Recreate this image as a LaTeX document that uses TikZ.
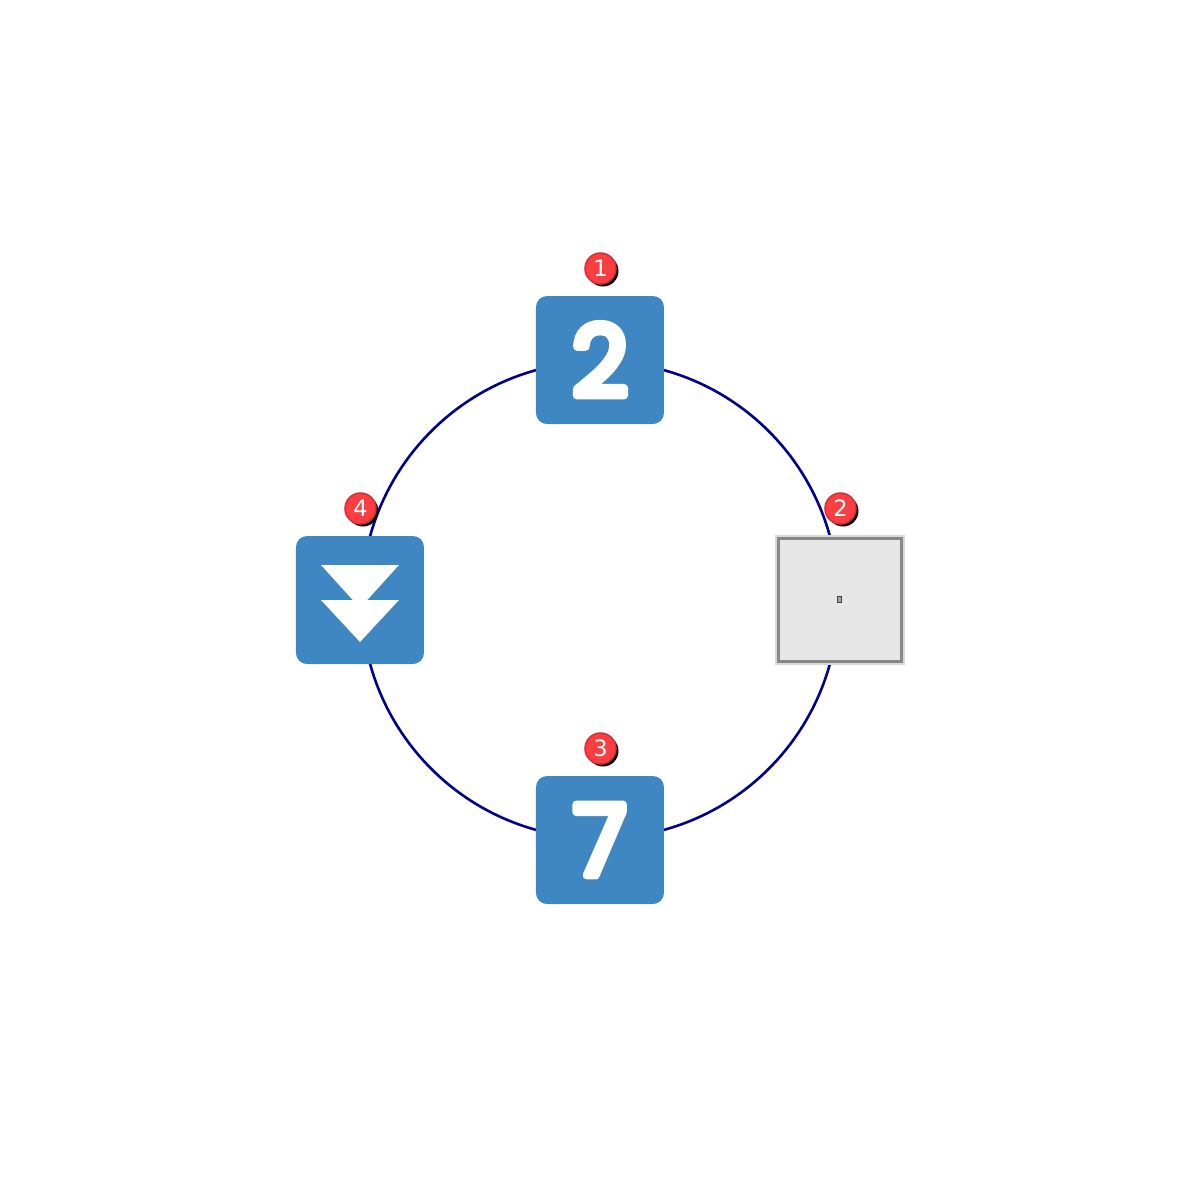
\documentclass[tikz,border=0pt]{standalone}
\usepackage{fontspec}
\usepackage{xcolor}
\usetikzlibrary{positioning,calc,shadows,backgrounds}
\setmainfont{DejaVu Sans}
\newfontfamily\keyfont[FakeBold=8]{Poppins}
\definecolor{ringblue}{RGB}{0,0,139}
\definecolor{keyblue}{RGB}{62,135,195}
\definecolor{badgered}{RGB}{250,62,66}
\definecolor{badgeedge}{RGB}{214,48,52}
\definecolor{tofugray}{RGB}{230,230,230}
\definecolor{tofuedge}{RGB}{135,135,135}
\begin{document}
\begin{tikzpicture}[
    slotkey/.style={minimum size=1.28cm, inner sep=0pt, rounded corners=0.11cm, fill=keyblue, text=white, font=\keyfont\fontsize{28}{28}\selectfont\special{pdf:code 1 j 1 J}},
    slotempty/.style={minimum size=1.23cm, inner sep=0pt, draw=tofuedge, line width=0.024cm, fill=tofugray, preaction={draw=black!15, line width=0.065cm}},
    badge/.style={circle, minimum size=0.31cm, inner sep=0pt, fill=badgered, draw=badgeedge, line width=0.015cm, text=white, font=\fontsize{6.4}{6.4}\selectfont, drop shadow={shadow xshift=0.025cm, shadow yshift=-0.025cm, opacity=1, fill=black}},
    ring/.style={draw=ringblue, line width=0.026cm},
]
    \useasboundingbox (-6,-6) rectangle (6,6);
    % Slots on the ring
    \node[slotkey] (slot1) at (90:2.4cm) {2};
    \node[slotempty] (slot2) at (0:2.4cm) {};
    \node[slotkey] (slot3) at (270:2.4cm) {7};
    \node[slotkey] (slot4) at (180:2.4cm) {};
    % Ring behind the slots
    \foreach \i/\a in {1/90,2/0,3/270,4/180} {
        \coordinate (hub\i) at (\a:2.385cm);
    }
    \begin{scope}[on background layer]
    \foreach \i/\j in {1/2,2/3,3/4,4/1} {
        \draw[ring] (hub\i) to[bend left=45] (hub\j);
    }
    \end{scope}
    % Missing glyph in the empty slot
    \node[draw=black!75, fill=black!35, line width=0.008cm, minimum width=0.04cm, minimum height=0.06cm, inner sep=0pt] (tofu) at ([xshift=-0.01cm,yshift=0.01cm]slot2.center) {};
    % Double arrow in the left slot
    \begin{scope}[shift={(slot4.center)}]
    \fill[white] (-0.39,0.35) -- (0.39,0.35) -- (0,-0.08) -- cycle;
    \fill[white] (-0.39,0) -- (0.39,0) -- (0,-0.42) -- cycle;
    \end{scope}
    % Order badges
    \foreach \i/\n in {1/1,2/2,3/3,4/4} {
        \node[badge] (badge\i) at ([xshift=0.005cm,yshift=0.915cm]slot\i.center) {\n};
    }
\end{tikzpicture}
\end{document}
